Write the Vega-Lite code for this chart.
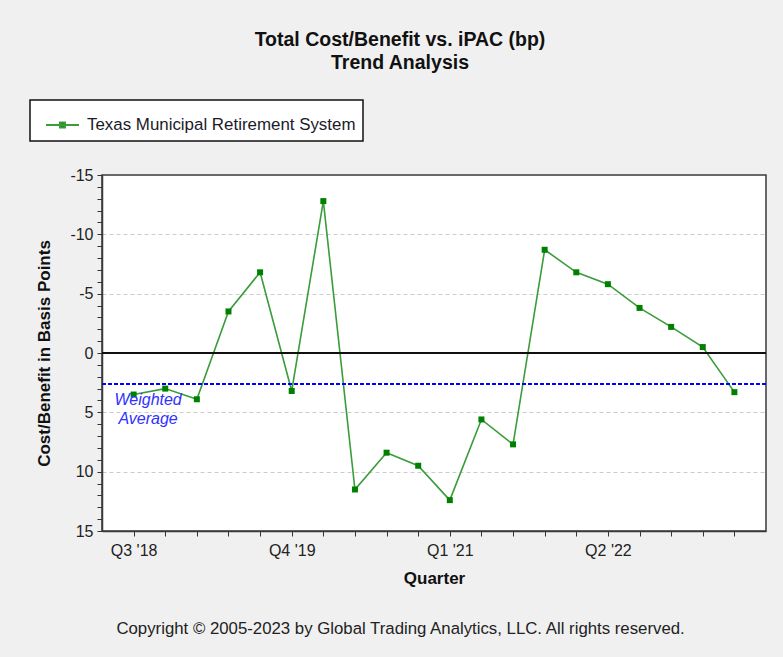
{
  "$schema": "https://vega.github.io/schema/vega-lite/v6.json",
  "width": 664,
  "height": 356,
  "autosize": {"type": "none"},
  "padding": {"left": 102, "top": 175, "right": 17, "bottom": 126},
  "background": "#f0f0f0",
  "config": {
    "font": "Liberation Sans",
    "view": {"fill": "white", "stroke": "#3a3a3a", "strokeWidth": 1.5},
    "axis": {"labelOverlap": false, "labelBound": false, "labelFlush": false}
  },
  "title": {
    "text": ["Total Cost/Benefit vs. iPAC (bp)", "Trend Analysis"],
    "font": "Liberation Sans",
    "fontSize": 19.5,
    "fontWeight": "bold",
    "color": "#111111",
    "anchor": "middle",
    "frame": "group",
    "dx": -34,
    "offset": 26,
    "lineHeight": 23
  },
  "data": {
    "values": [
      {"quarter": "Q3 '18", "value": 3.5},
      {"quarter": "Q4 '18", "value": 3.0},
      {"quarter": "Q1 '19", "value": 3.9},
      {"quarter": "Q2 '19", "value": -3.5},
      {"quarter": "Q3 '19", "value": -6.8},
      {"quarter": "Q4 '19", "value": 3.2},
      {"quarter": "Q1 '20", "value": -12.8},
      {"quarter": "Q2 '20", "value": 11.5},
      {"quarter": "Q3 '20", "value": 8.4},
      {"quarter": "Q4 '20", "value": 9.5},
      {"quarter": "Q1 '21", "value": 12.4},
      {"quarter": "Q2 '21", "value": 5.6},
      {"quarter": "Q3 '21", "value": 7.7},
      {"quarter": "Q4 '21", "value": -8.7},
      {"quarter": "Q1 '22", "value": -6.8},
      {"quarter": "Q2 '22", "value": -5.8},
      {"quarter": "Q3 '22", "value": -3.8},
      {"quarter": "Q4 '22", "value": -2.2},
      {"quarter": "Q1 '23", "value": -0.5},
      {"quarter": "Q2 '23", "value": 3.3}
    ]
  },
  "layer": [
    {
      "mark": {"type": "line", "color": "#3a9c3a", "strokeWidth": 1.6},
      "encoding": {
        "x": {
          "field": "quarter",
          "type": "ordinal",
          "sort": null,
          "scale": {"type": "point", "padding": 1},
          "axis": {
            "title": "Quarter",
            "titleFontSize": 17,
            "titleFontWeight": "bold",
            "titleColor": "#111111",
            "titlePadding": 12,
            "labelAngle": 0,
            "labelFontSize": 16,
            "labelColor": "#222222",
            "labelPadding": 6,
            "labelOverlap": false,
            "labelExpr": "indexof([\"Q3 '18\", \"Q4 '19\", \"Q1 '21\", \"Q2 '22\"], datum.value) >= 0 ? datum.label : ''",
            "tickSize": 5,
            "tickColor": "#333333",
            "domainColor": "#3a3a3a",
            "domainWidth": 1.5,
            "grid": false
          }
        },
        "y": {
          "field": "value",
          "type": "quantitative",
          "scale": {"domain": [-15, 15], "reverse": true, "nice": false, "zero": false},
          "axis": {
            "title": "Cost/Benefit in Basis Points",
            "titleFontSize": 17,
            "titleFontWeight": "bold",
            "titleColor": "#111111",
            "titlePadding": 16,
            "tickCount": 30,
            "labelExpr": "datum.value % 5 === 0 ? '' + datum.value : ''",
            "labelOverlap": false,
            "labelFontSize": 16,
            "labelColor": "#222222",
            "labelPadding": 4,
            "tickSize": 5,
            "tickColor": "#333333",
            "domainColor": "#3a3a3a",
            "domainWidth": 1.5,
            "grid": true,
            "gridColor": "#cccccc",
            "gridDash": [4, 3],
            "gridOpacity": {"condition": {"test": "datum.value % 5 === 0 && abs(datum.value) < 15 && datum.value !== 0", "value": 1}, "value": 0}
          }
        },
        "color": {
          "datum": "Texas Municipal Retirement System",
          "type": "nominal",
          "scale": {"range": ["#3a9c3a"]},
          "legend": {
            "orient": "none",
            "legendX": -72,
            "legendY": -75,
            "title": null,
            "fillColor": "white",
            "strokeColor": "#111111",
            "padding": 7.5,
            "symbolType": "M-1,0L1,0M-0.15,-0.15L0.15,-0.15L0.15,0.15L-0.15,0.15Z",
            "symbolSize": 1089,
            "symbolStrokeWidth": 2,
            "symbolOffset": 7.5,
            "labelFontSize": 16.9,
            "labelColor": "#1a1a2a",
            "labelOffset": 7,
            "labelLimit": 400,
            "encode": {
              "legend": {"update": {"strokeWidth": {"value": 1.5}}},
              "symbols": {"update": {"fill": {"value": "#008000"}, "stroke": {"value": "#2a962a"}, "strokeWidth": {"value": 2}}}
            }
          }
        }
      }
    },
    {
      "mark": {"type": "rule", "color": "#111111", "strokeWidth": 1.5},
      "encoding": {"y": {"datum": 0}}
    },
    {
      "mark": {"type": "rule", "color": "#0000ff", "strokeWidth": 1.5, "strokeDash": [4, 2]},
      "encoding": {"y": {"datum": 2.6}}
    },
    {
      "mark": {"type": "point", "shape": "square", "filled": true, "size": 36, "color": "#008000", "opacity": 1},
      "encoding": {
        "x": {"field": "quarter", "type": "ordinal", "sort": null},
        "y": {"field": "value", "type": "quantitative"}
      }
    },
    {
      "transform": [{"filter": "datum.quarter === \"Q3 '18\""}],
      "mark": {"type": "text", "text": ["Weighted", "Average"], "font": "Liberation Sans", "fontStyle": "italic", "fontSize": 16, "color": "#3030ff", "align": "center", "baseline": "middle", "lineHeight": 19, "dx": 14.5},
      "encoding": {
        "x": {"field": "quarter", "type": "ordinal", "sort": null},
        "y": {"datum": 3.92}
      }
    },
    {
      "transform": [{"filter": "datum.quarter === \"Q3 '20\""}],
      "mark": {"type": "text", "text": "Copyright © 2005-2023 by Global Trading Analytics, LLC. All rights reserved.", "font": "Liberation Sans", "fontSize": 16.8, "color": "#222222", "align": "center", "baseline": "middle", "dx": 14},
      "encoding": {
        "x": {"field": "quarter", "type": "ordinal", "sort": null},
        "y": {"datum": 23.26}
      }
    }
  ]
}
